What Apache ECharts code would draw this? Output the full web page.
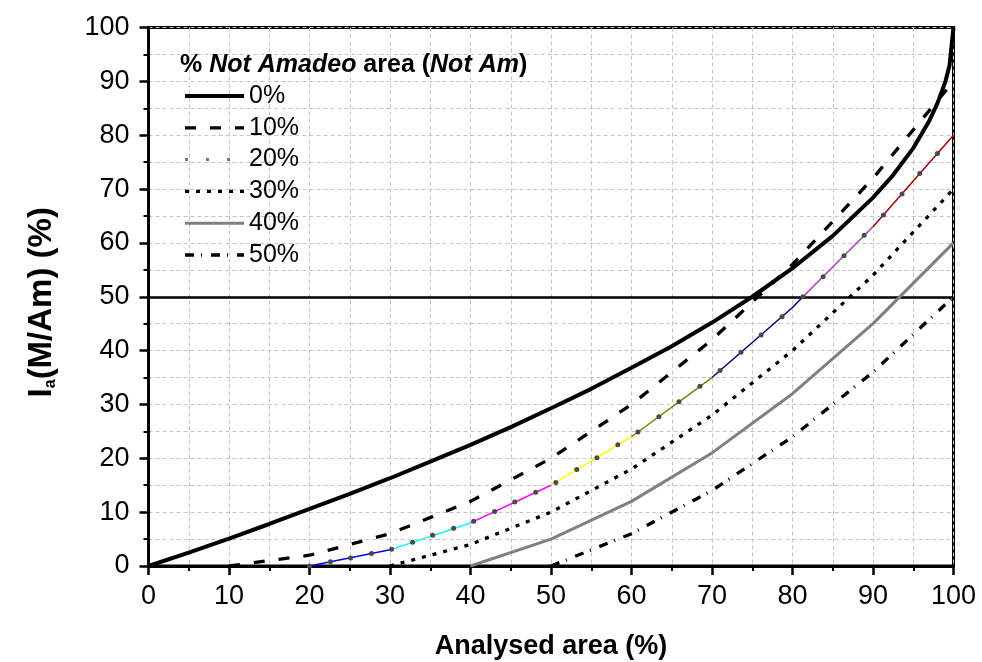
<!DOCTYPE html>
<html>
<head>
<meta charset="utf-8">
<script src="https://cdn.jsdelivr.net/npm/echarts@6/dist/echarts.min.js"></script>
<style>
  html, body { margin: 0; padding: 0; background: #fff; }
  #chart { width: 982px; height: 662px; }
</style>
</head>
<body>
<div id="chart"></div>
<script>
const FONT = '"Liberation Sans", Arial, Helvetica, sans-serif';

// Legend entries: share of the area that is not Amadeo
const levels = ['0%', '10%', '20%', '30%', '40%', '50%'];

// I_a(M/Am) (%) against analysed area (%), one pair of arrays per level
const curve0X = [0, 5, 10, 15, 20, 25, 30, 35, 40, 45, 50, 55, 60, 65, 70, 75, 80, 85, 90, 92.5, 95, 97, 98, 99, 99.5, 100];
const curve0Y = [0, 2.5, 5.1, 7.8, 10.6, 13.4, 16.3, 19.4, 22.5, 25.8, 29.3, 32.9, 36.8, 40.8, 45.2, 50.0, 55.3, 61.3, 68.4, 72.6, 77.6, 82.7, 85.9, 90.0, 92.9, 100];

const curve10X = [10, 20, 30, 40, 50, 60, 70, 80, 90, 100];
const curve10Y = [0, 2, 6, 12, 20, 30, 42, 56, 72, 90];

const curve20X = [20, 30, 40, 50, 60, 70, 80, 81.3, 90, 100];
const curve20Y = [0, 3, 8, 15, 24, 35, 48, 50, 63, 80];

const curve30X = [30, 40, 50, 60, 70, 80, 90, 100];
const curve30Y = [0, 4, 10, 18, 28, 40, 54, 70];

const curve40X = [40, 50, 60, 70, 80, 90, 100];
const curve40Y = [0, 5, 12, 21, 32, 45, 60];

const curve50X = [50, 60, 70, 80, 90, 100];
const curve50Y = [0, 6, 14, 24, 36, 50];

// The 20% line changes colour at these abscissae
const band20Edges = [20, 30, 40, 50, 60, 70, 81.3, 90, 100];
const band20Colors = ['#0000ff', '#00ffff', '#ff00ff', '#ffff00', '#808000', '#000080', '#a23fae', '#a30000'];

// Symbols placed along the 20% line
const marker20X = [20.0, 22.6, 25.1, 27.7, 30.2, 32.8, 35.3, 37.9, 40.4, 43.0, 45.5, 48.1, 50.6, 53.2, 55.7, 58.3, 60.8, 63.4, 65.9, 68.5, 71.0, 73.6, 76.1, 78.7, 81.3, 83.8, 86.4, 88.9, 91.3, 93.6, 95.8, 98.0];
const marker20Y = [0, 0.8, 1.5, 2.3, 3.1, 4.4, 5.7, 7.0, 8.3, 10.1, 11.9, 13.7, 15.5, 17.9, 20.1, 22.5, 24.9, 27.7, 30.5, 33.4, 36.3, 39.7, 42.9, 46.3, 50.0, 53.7, 57.6, 61.4, 65.2, 69.1, 72.9, 76.6];

// Reference level drawn across the plot
const thresholdY = 50;

// Axis ranges
const xRange = [0, 100];
const yRange = [0, 100];
const tickStep = 10;

const pairs = (xs, ys) => xs.map((x, i) => [x, ys[i]]);

const gridLine = { color: '#c4c4c4', width: 1, type: [4, 3] };

function axisCommon(range, labelMargin) {
  return {
    type: 'value',
    min: range[0],
    max: range[1],
    interval: tickStep,
    axisLine: { show: true, onZero: false, lineStyle: { color: '#000', width: 3 } },
    axisTick: { show: true, inside: false, length: 9, lineStyle: { color: '#000', width: 2.5 } },
    minorTick: { show: true, splitNumber: 2, length: 5, lineStyle: { color: '#000', width: 2 } },
    splitLine: { show: true, lineStyle: gridLine },
    minorSplitLine: { show: true, lineStyle: gridLine },
    axisLabel: { color: '#000', fontSize: 27, fontFamily: FONT, margin: labelMargin, showMinLabel: true, showMaxLabel: true }
  };
}

const series = [];

series.push({
  name: '0%',
  type: 'line',
  data: pairs(curve0X, curve0Y),
  showSymbol: false,
  symbol: 'none',
  lineStyle: { color: '#000', width: 4 },
  z: 6,
  markLine: {
    silent: true,
    symbol: 'none',
    label: { show: false },
    lineStyle: { color: '#000', width: 2.5, type: 'solid' },
    data: [{ yAxis: thresholdY }]
  }
});

series.push({
  name: '10%',
  type: 'line',
  data: pairs(curve10X, curve10Y),
  showSymbol: false,
  symbol: 'none',
  lineStyle: { color: '#000', width: 3.3, type: [11, 14] },
  z: 5
});

// Coloured stretches of the 20% line
const knots20 = pairs(curve20X, curve20Y);
band20Colors.forEach((color, i) => {
  const lo = band20Edges[i];
  const hi = band20Edges[i + 1];
  series.push({
    name: 'band20-' + i,
    type: 'line',
    data: knots20.filter(p => p[0] >= lo && p[0] <= hi),
    showSymbol: false,
    symbol: 'none',
    lineStyle: { color: color, width: 1.5 },
    z: 4
  });
});

series.push({
  name: '20%',
  type: 'line',
  data: pairs(marker20X, marker20Y),
  symbol: 'circle',
  symbolSize: 5,
  showSymbol: true,
  showAllSymbol: true,
  itemStyle: { color: '#4a4a4a' },
  lineStyle: { color: '#777', width: 3, type: [3, 18], opacity: 0 },
  z: 7
});

series.push({
  name: '30%',
  type: 'line',
  data: pairs(curve30X, curve30Y),
  showSymbol: false,
  symbol: 'none',
  lineStyle: { color: '#000', width: 3.3, type: [4, 7] },
  z: 5
});

series.push({
  name: '40%',
  type: 'line',
  data: pairs(curve40X, curve40Y),
  showSymbol: false,
  symbol: 'none',
  lineStyle: { color: '#808080', width: 3 },
  z: 5
});

series.push({
  name: '50%',
  type: 'line',
  data: pairs(curve50X, curve50Y),
  showSymbol: false,
  symbol: 'none',
  lineStyle: { color: '#000', width: 3.3, type: [9, 7, 1, 9] },
  z: 5
});

const legendData = levels.map(name => {
  if (name === '20%') {
    return { name, lineStyle: { color: '#777', width: 3, type: [3, 18], opacity: 1 } };
  }
  return { name };
});

const chart = echarts.init(document.getElementById('chart'), null, { renderer: 'canvas' });

chart.setOption({
  animation: false,
  backgroundColor: '#fff',
  title: {
    left: 175,
    top: 48,
    text: '{b|% }{bi|Not Amadeo}{b| area (}{bi|Not Am}{b|)}',
    textStyle: {
      rich: {
        b: { fontSize: 25, fontWeight: 'bold', fontFamily: FONT, color: '#000' },
        bi: { fontSize: 25, fontWeight: 'bold', fontStyle: 'italic', fontFamily: FONT, color: '#000' }
      }
    }
  },
  legend: {
    data: legendData,
    orient: 'vertical',
    left: 183,
    top: 83,
    itemWidth: 59,
    itemHeight: 26,
    itemGap: 5.8,
    selectedMode: false,
    padding: 0,
    itemStyle: { opacity: 0 },
    lineStyle: { width: 'inherit' },
    textStyle: { fontSize: 25, lineHeight: 26, fontFamily: FONT, color: '#000' }
  },
  grid: {
    left: 148.5,
    right: 28.5,
    top: 27.5,
    bottom: 96,
    show: true,
    borderColor: '#000',
    borderWidth: 3,
    containLabel: false,
    outerBoundsMode: 'none'
  },
  xAxis: Object.assign(axisCommon(xRange, 17), {
    name: 'Analysed area (%)',
    nameLocation: 'middle',
    nameGap: 67,
    nameTextStyle: { fontSize: 27, fontWeight: 'bold', fontFamily: FONT, color: '#000' }
  }),
  yAxis: Object.assign(axisCommon(yRange, 19), {
    name: '{i|I}{s|a}{i|(M/Am) (%)}',
    nameLocation: 'middle',
    nameRotate: 90,
    nameGap: 90,
    nameTextStyle: {
      padding: [0, 11, 0, 0],
      rich: {
        i: { fontSize: 33, fontWeight: 'bold', fontFamily: FONT, color: '#000' },
        s: { fontSize: 16, fontWeight: 'bold', fontFamily: FONT, color: '#000', verticalAlign: 'bottom', padding: [15, 0, 0, 0] }
      }
    }
  }),
  series: series
});
</script>
</body>
</html>
